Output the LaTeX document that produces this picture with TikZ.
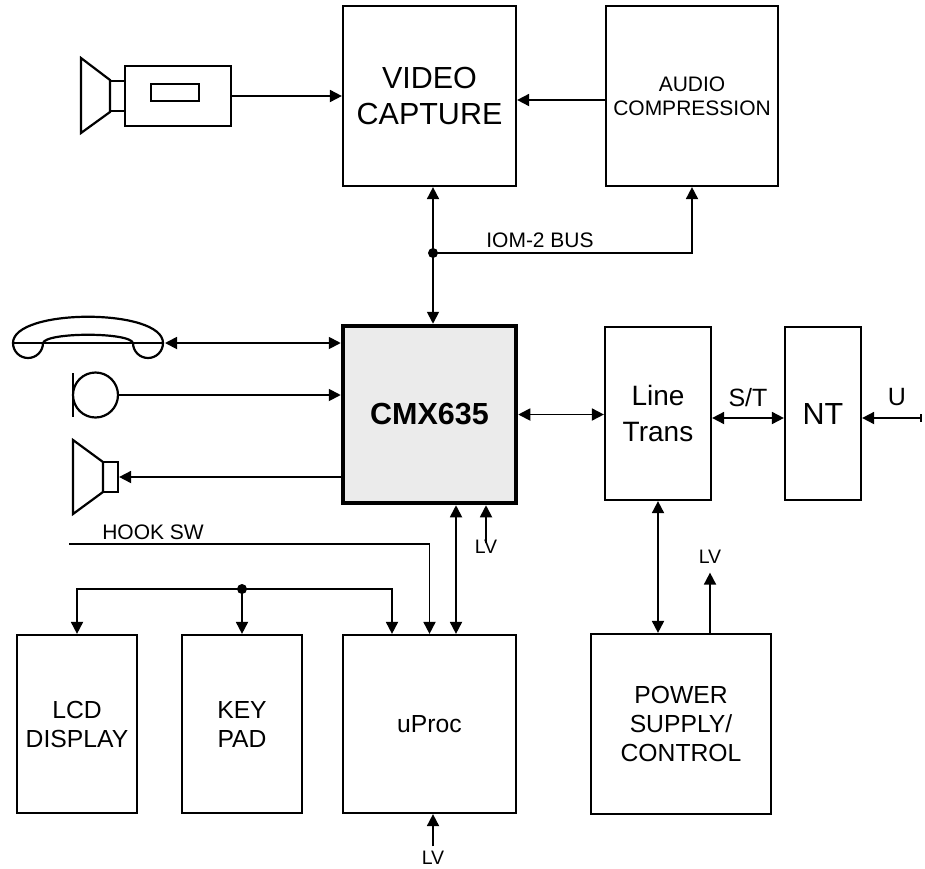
\documentclass[tikz,border=0pt]{standalone}
\usepackage{fontspec}
\setmainfont{Liberation Sans}
\usetikzlibrary{arrows.meta}
\definecolor{cmxgray}{HTML}{EBEBEB}
\newcommand{\bigsize}{\fontsize{30.5}{36}\selectfont}
\newcommand{\linesize}{\fontsize{28}{36}\selectfont}
\newcommand{\midsize}{\fontsize{21}{24}\selectfont}
\newcommand{\boxsize}{\fontsize{24.7}{29}\selectfont}
\newcommand{\lblsize}{\fontsize{21}{24}\selectfont}
\newcommand{\stsize}{\fontsize{25}{27}\selectfont}
\newcommand{\lvsize}{\fontsize{19.5}{21}\selectfont}

\begin{document}
\begin{tikzpicture}[x=1pt, y=-1pt, line width=1.8pt,
    blk/.style={draw, line width=2.2pt, align=center, inner sep=0pt},
    lbl/.style={inner sep=0pt},
    >={Triangle[length=12pt,width=12pt]}]
    \useasboundingbox (0,0) rectangle (925,868);
    % blocks
    \node[blk, minimum width=173pt, minimum height=180pt, font=\bigsize] (video) at (429.5,96) {VIDEO\\CAPTURE};
    \node[blk, minimum width=172pt, minimum height=180pt, font=\midsize] (audio) at (692,96) {AUDIO\\COMPRESSION};
    \node[blk, line width=4.5pt, fill=cmxgray, minimum width=173pt, minimum height=177pt, font=\bigsize\bfseries] (cmx) at (429.5,414.5) {CMX635};
    \node[blk, minimum width=106pt, minimum height=173pt, font=\linesize] (line) at (658,413.5) {Line\\Trans};
    \node[blk, minimum width=76pt, minimum height=173pt, font=\bigsize] (nt) at (823,413.5) {\raisebox{-8pt}{NT}};
    \node[blk, minimum width=120pt, minimum height=178pt, font=\boxsize] (lcd) at (77,724) {LCD\\DISPLAY};
    \node[blk, minimum width=120pt, minimum height=178pt, font=\boxsize] (keypad) at (242,724) {KEY\\PAD};
    \node[blk, minimum width=173pt, minimum height=178pt, font=\boxsize] (uproc) at (429.5,724) {uProc};
    \node[blk, minimum width=180pt, minimum height=180pt, font=\boxsize] (power) at (681,724) {POWER\\SUPPLY/\\CONTROL};

    % camera
    \draw[line width=2.2pt] (81,58) -- (110,80) -- (110,112) -- (81,133) -- cycle;
    \draw[line width=2.2pt] (110,81) rectangle (125,111);
    \node[blk, minimum width=106pt, minimum height=60pt] (cam) at (178,96) {};
    \draw[line width=2.2pt] (151,84) rectangle (199,101);
    % handset
    \draw[line width=2.2pt] (13,343) .. controls (13,308) and (163,308) .. (163,343);
    \draw[line width=2.2pt] (13,343) -- (163,343);
    \draw[line width=2.2pt] (13,343) arc[start angle=180, end angle=360, radius=15pt];
    \draw[line width=2.2pt] (133,343) arc[start angle=180, end angle=360, radius=15pt];
    \draw[line width=2.2pt] (43,343) .. controls (46,332) and (130,332) .. (133,343);
    \coordinate (hs) at (165,343);
    % microphone
    \draw[line width=2.2pt] (73,373) -- (73,417);
    \node[circle, draw, line width=2.2pt, minimum size=45pt, inner sep=0pt] (mic) at (95.5,395) {};
    % speaker
    \draw[line width=2.2pt] (73,440) -- (103,462) -- (103,492) -- (73,514) -- cycle;
    \node[blk, minimum width=15pt, minimum height=30pt] (spk) at (110.5,477) {};

    % connectors
    \draw[->] (cam.east) -- (video.west |- cam.east);
    \draw[->] ([yshift=-4pt]audio.west) -- ([yshift=-4pt]video.east);
    \coordinate (bus) at (433,253);
    \draw[<->] (bus |- video.south) -- (bus |- cmx.north);
    \draw[->] (bus) -| (audio.south);
    \fill (bus) circle (5pt);
    \node[lbl, font=\lblsize] (iom) at (540,240) {IOM-2 BUS};
    \draw[<->] (hs) -- (hs -| cmx.west);
    \draw[->] (mic.east) -- (mic.east -| cmx.west);
    \draw[->] (cmx.west |- spk.east) -- (spk.east);
    \coordinate (hook) at (69,544);
    \node[lbl, font=\lblsize] (hooksw) at (153,532) {HOOK SW};
    \draw[->] (hook) -| (uproc.north);
    \coordinate (kb) at (242,589);
    \draw[->] (kb) -| (lcd.north);
    \draw[->] (kb) -- (keypad.north);
    \draw[->] (kb) -| ([xshift=-37.5pt]uproc.north);
    \fill (kb) circle (5pt);
    \draw[<->] ([xshift=26.5pt]cmx.south) -- ([xshift=26.5pt]uproc.north);
    \node[lbl, font=\lvsize] (lv1) at (486,547) {LV};
    \draw[->] ([yshift=-4pt]lv1.north) -- (lv1.north |- cmx.south);
    \draw[<->] (cmx.east) -- (cmx.east -| line.west);
    \draw[<->] ([yshift=-4.5pt]line.east) -- ([yshift=-4.5pt]nt.west);
    \node[lbl, font=\stsize] (st) at (748,398) {S/T};
    \coordinate (uend) at (922,418);
    \draw[{Triangle[length=12pt,width=12pt]}-{Bar[width=8pt]}] ([yshift=-4.5pt]nt.east) -- (uend);
    \node[lbl, font=\stsize] (ulbl) at (897,397) {U};
    \draw[<->] (line.south) -- (line.south |- power.north);
    \node[lbl, font=\lvsize] (lv2) at (710,557) {LV};
    \draw[->] (lv2.south |- power.north) -- ([yshift=-8pt]lv2.south);
    \node[lbl, font=\lvsize] (lv3) at (433,858) {LV};
    \draw[->] ([yshift=4pt]lv3.north) -- (lv3.north |- uproc.south);
\end{tikzpicture}
\end{document}
